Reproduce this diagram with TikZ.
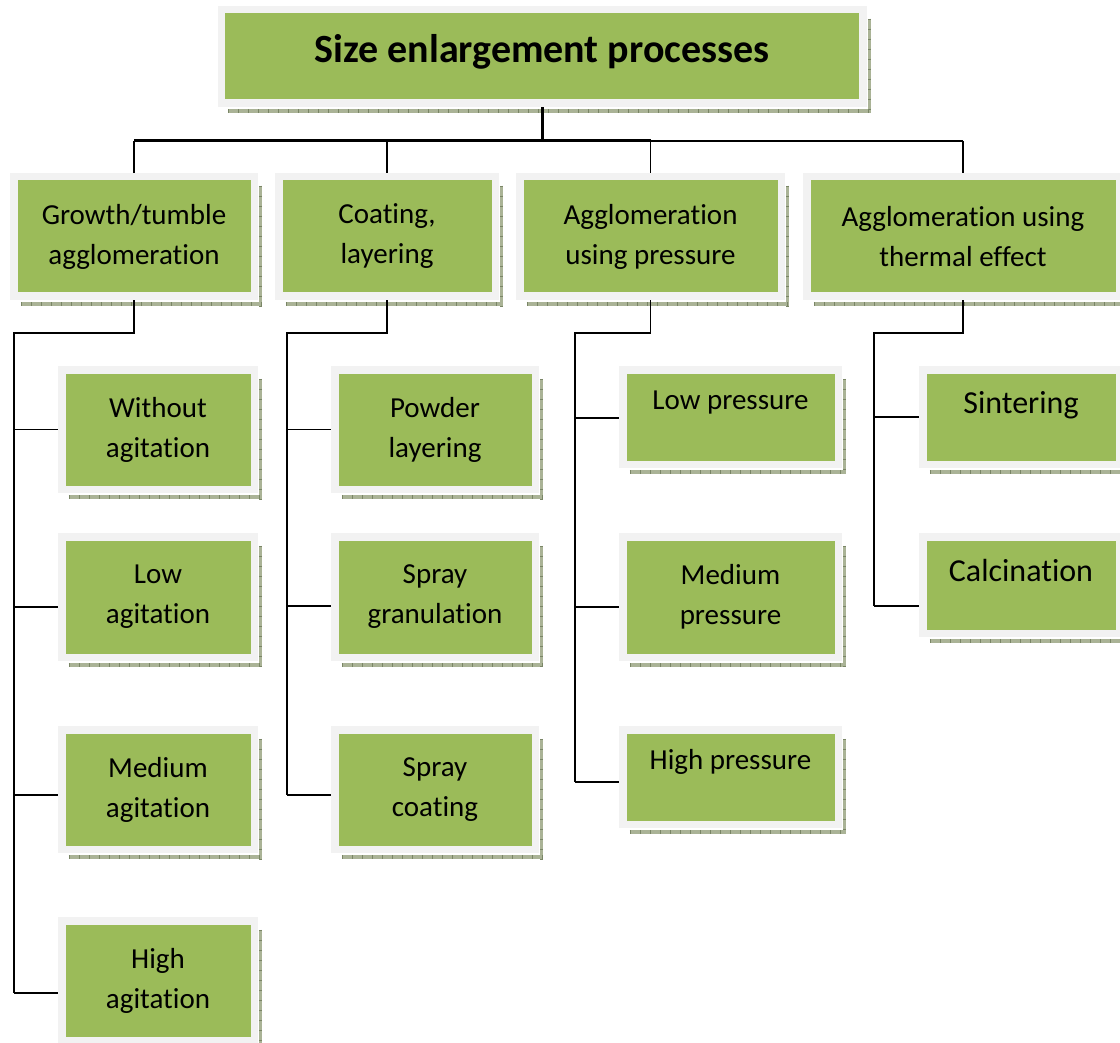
\documentclass[tikz,border=0pt]{standalone}
\usepackage{fontspec}
\setmainfont{Carlito}[Ligatures=NoCommon]
\usetikzlibrary{calc,backgrounds}

\definecolor{boxgreen}{HTML}{9BBB59}
\definecolor{framegrey}{HTML}{F2F2F2}
\definecolor{shadefill}{HTML}{AAB396}
\definecolor{shadetick}{HTML}{7A8666}

\pgfdeclarelayer{canvas}
\pgfsetlayers{canvas,background,main}

\tikzset{
  pbox/.style n args={2}{rectangle, fill=boxgreen, draw=framegrey, line width=7.5pt,
    outer sep=0pt, inner sep=0pt, align=center, text=black,
    minimum width=#1pt, minimum height=#2pt,
    font=\fontsize{29}{40}\selectfont},
  shorttext/.style={text height=20pt, text depth=36pt},
  bigtext/.style={font=\fontsize{32}{40}\selectfont, text height=24pt, text depth=32pt},
  link/.style={draw=black, line width=1.6pt},
  trunk/.style={draw=black, line width=3pt},
}

% hatched drop shadow along the right and bottom of a box
\newcommand\boxshade[1]{%
  \fill[shadefill] ($(#1.south west)+(7,-5.75)$) rectangle ($(#1.south east)+(7.75,-9.75)$);
  \fill[shadefill] ($(#1.north east)+(4.75,-9)$) rectangle ($(#1.south east)+(7.75,-9.75)$);
  \draw[shadetick, line width=4pt, dash pattern=on 1pt off 9pt]
    ($(#1.south west)+(7,-7.75)$) -- ($(#1.south east)+(7.75,-7.75)$);
  \draw[shadetick, line width=3pt, dash pattern=on 1pt off 9pt]
    ($(#1.north east)+(6.25,-9)$) -- ($(#1.south east)+(6.25,-9.75)$);
}

\begin{document}
\begin{tikzpicture}[x=1pt, y=1pt]
\begin{pgfonlayer}{canvas}
  \fill[white] (0,0) rectangle (1120,-1043);
\end{pgfonlayer}
\useasboundingbox (0,0) rectangle (1120,-1043);

% root
\node[pbox={641.5}{93.5}, font=\bfseries\fontsize{40}{48}\selectfont,
      text height=29pt, text depth=16pt] (root) at (542,-56.5) {Size enlargement processes};

% process families
\node[pbox={240.5}{119.5}] (A) at (134,-236.5) {Growth/tumble\\agglomeration};
\node[pbox={216.5}{119.5}] (B) at (387,-236.5) {Coating,\\layering};
\node[pbox={261.5}{119.5}] (C) at (650.5,-236.5) {Agglomeration\\using pressure};
\node[pbox={312.5}{119.5}] (D) at (963,-236.5) {Agglomeration using\\thermal effect};

% growth / tumble agglomeration
\node[pbox={192.5}{119.5}] (a1) at (158,-429.5) {Without\\agitation};
\node[pbox={192.5}{120.5}] (a2) at (158,-597) {Low\\agitation};
\node[pbox={192.5}{119.5}] (a3) at (158,-789.5) {Medium\\agitation};
\node[pbox={192.5}{119.5}] (a4) at (158,-980.5) {High\\agitation};

% coating, layering
\node[pbox={200.5}{119.5}] (b1) at (435,-429.5) {Powder\\layering};
\node[pbox={200.5}{120.5}] (b2) at (435,-597) {Spray\\granulation};
\node[pbox={200.5}{119.5}] (b3) at (435,-789.5) {Spray\\coating};

% pressure agglomeration
\node[pbox={215.5}{94.5}, shorttext] (c1) at (730.5,-417) {Low pressure};
\node[pbox={215.5}{120.5}] (c2) at (730.5,-597) {Medium\\pressure};
\node[pbox={215.5}{94.5}, shorttext] (c3) at (730.5,-777) {High pressure};

% thermal agglomeration
\node[pbox={196.5}{94.5}, bigtext] (d1) at (1021,-417) {Sintering};
\node[pbox={196.5}{96.5}, bigtext] (d2) at (1021,-585) {Calcination};

% junction points
\coordinate (bus) at (0,-141);
\coordinate (tA) at (14,-333);
\coordinate (tB) at (287,-333);
\coordinate (tC) at (575,-333);
\coordinate (tD) at (874,-333);
\coordinate (a1j) at (a1.west);
\coordinate (a2j) at ($(a2.west)+(0,-10)$);
\coordinate (a3j) at ($(a3.west)+(0,-5.5)$);
\coordinate (a4j) at ($(a4.west)+(0,-12.5)$);
\coordinate (b1j) at (b1.west);
\coordinate (b2j) at ($(b2.west)+(0,-9)$);
\coordinate (b3j) at ($(b3.west)+(0,-5.5)$);
\coordinate (c1j) at ($(c1.west)+(0,-1)$);
\coordinate (c2j) at ($(c2.west)+(0,-10)$);
\coordinate (c3j) at ($(c3.west)+(0,-5)$);
\coordinate (d1j) at (d1.west);
\coordinate (d2j) at ($(d2.west)+(0,-21)$);

\begin{pgfonlayer}{background}
  \foreach \n in {root,A,B,C,D,a1,a2,a3,a4,b1,b2,b3,c1,c2,c3,d1,d2} {\boxshade{\n}}

  % top level
  \draw[trunk] (root.south) -- (root.south |- bus);
  \draw[trunk] (A.north |- bus) -- (C.north |- bus);
  \draw[link] (C.north |- bus) -- (D.north |- bus);
  \foreach \n in {A,B,C,D} {\draw[link] (\n.north |- bus) -- (\n.north);}

  % column trunks
  \draw[link] (A.south) -- (A.south |- tA) -- (tA) -- (tA |- a4j);
  \draw[link] (B.south) -- (B.south |- tB) -- (tB) -- (tB |- b3j);
  \draw[link] (C.south) -- (C.south |- tC) -- (tC) -- (tC |- c3j);
  \draw[link] (D.south) -- (D.south |- tD) -- (tD) -- (tD |- d2j);

  % branches
  \foreach \j/\t in {a1j/tA,a2j/tA,a3j/tA,a4j/tA,b1j/tB,b2j/tB,b3j/tB,c1j/tC,c2j/tC,c3j/tC,d1j/tD,d2j/tD}
    {\draw[link] (\t |- \j) -- (\j);}
\end{pgfonlayer}
\end{tikzpicture}
\end{document}
